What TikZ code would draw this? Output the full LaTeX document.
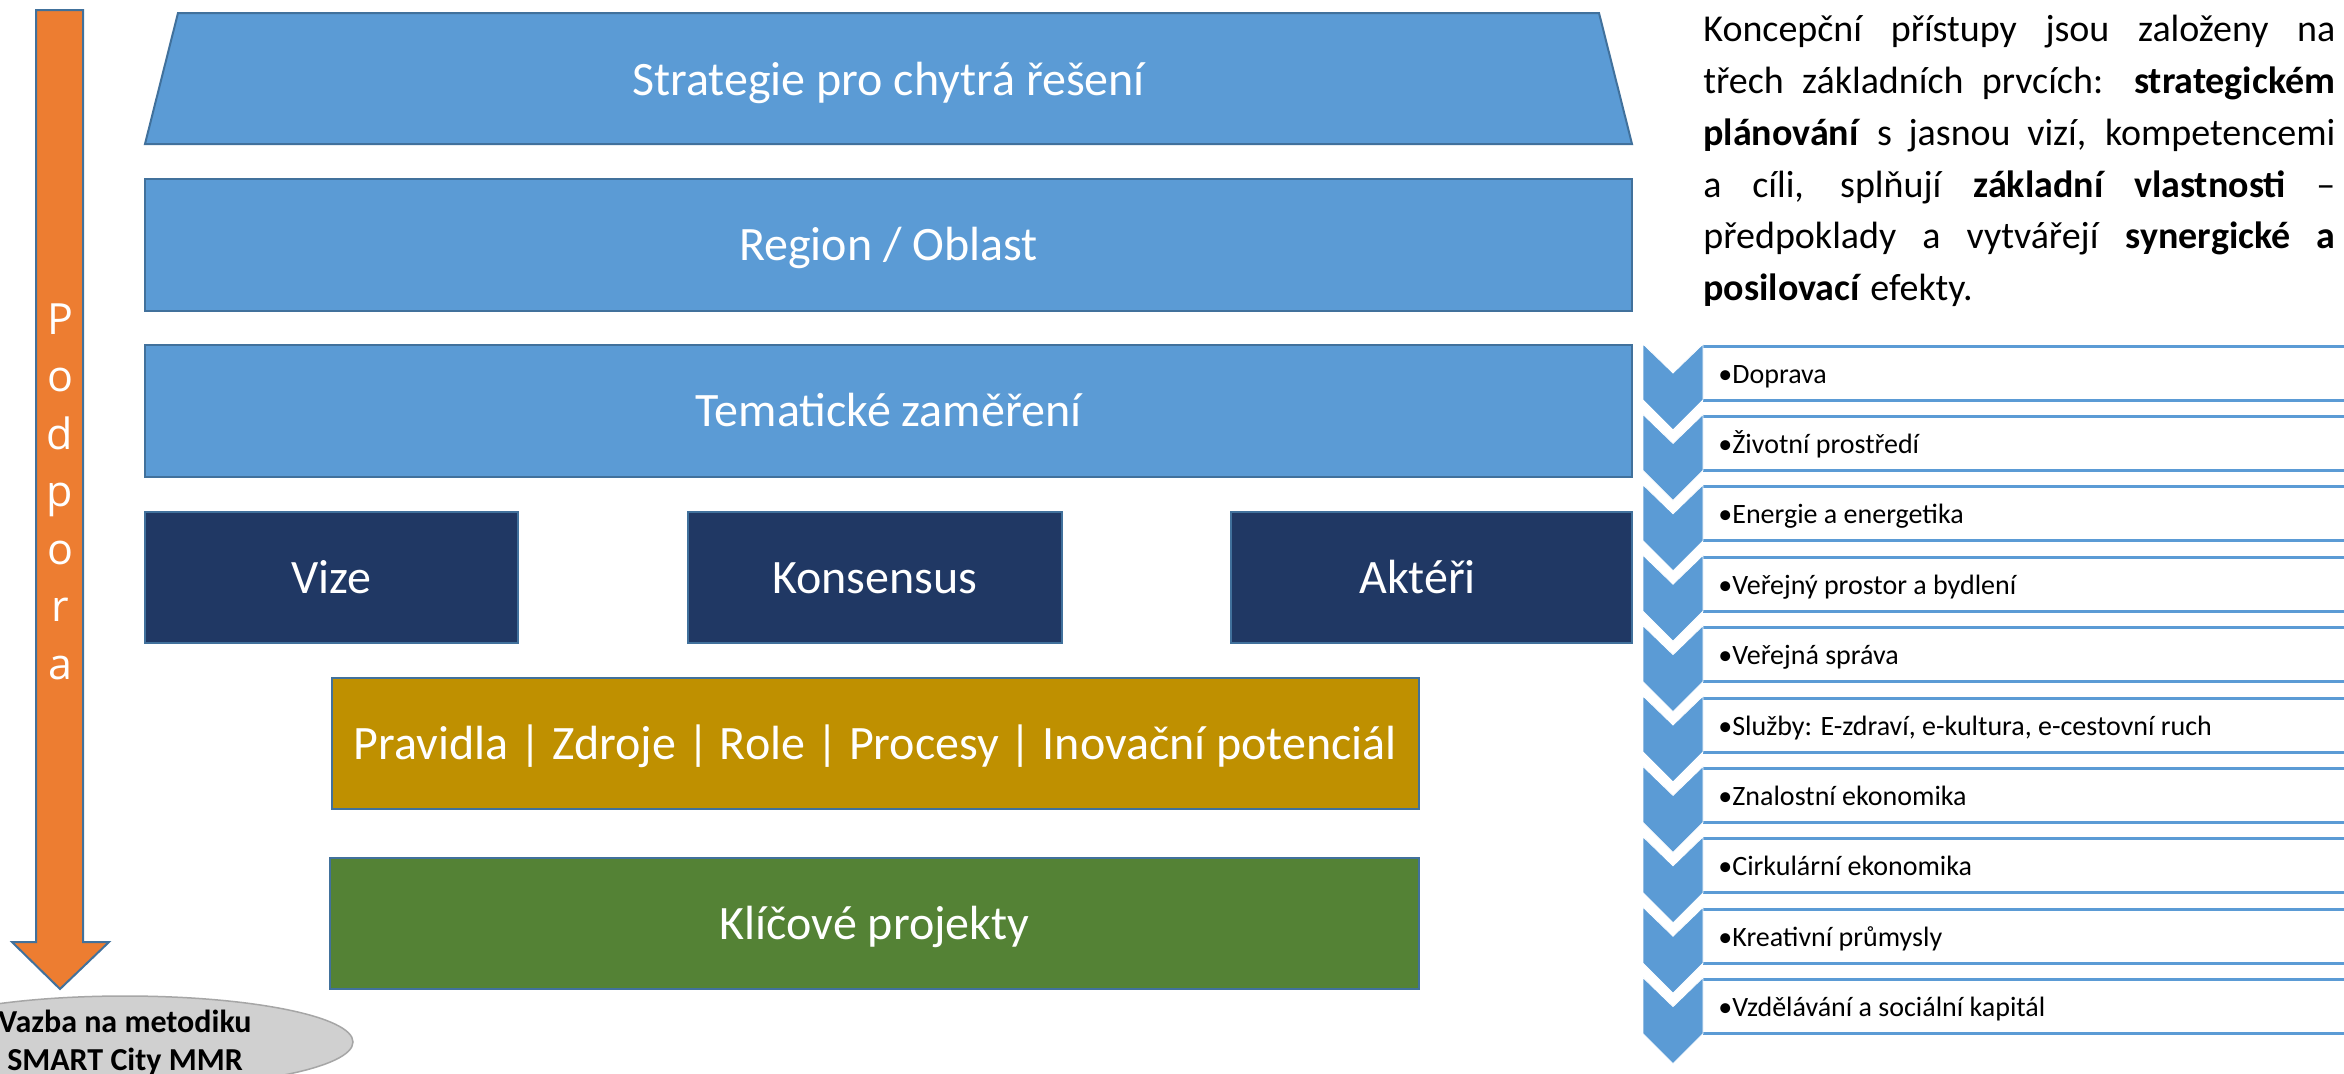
\documentclass[tikz,border=0pt]{standalone}
\usepackage{fontspec}
\setmainfont{Carlito}
\newfontfamily\osans{Open Sans}
\usetikzlibrary{shapes.geometric}
\definecolor{lblue}{HTML}{5B9BD5}
\definecolor{bord}{HTML}{41719C}
\definecolor{navy}{HTML}{203864}
\definecolor{gold}{HTML}{BF9000}
\definecolor{grn}{HTML}{548235}
\definecolor{orng}{HTML}{ED7D31}
\definecolor{egray}{HTML}{D0D0D0}
\definecolor{egrayd}{HTML}{A6A6A6}
\newcommand\jline[1]{\hbox to 316pt{#1}}
\begin{document}
\begin{tikzpicture}[x=0.5pt,y=-0.5pt,
  box/.style={rectangle, draw=bord, line width=1pt, text=white, inner sep=0pt,
    font=\fontsize{24}{29}\selectfont, text height=18pt, text depth=2.5pt},
  lbl/.style={text=white, inner sep=0pt, font=\fontsize{24}{29}\selectfont, text height=18pt, text depth=2.5pt},
  podl/.style={anchor=base, text=white, inner sep=0pt, font=\osans\fontsize{21.5}{26}\selectfont},
  itemtxt/.style={anchor=west, inner sep=0pt, font=\fontsize{14}{17}\selectfont, text height=10.8pt, text depth=1.8pt},
  listline/.style={draw=lblue, line width=1.5pt}]
\useasboundingbox (0,0) rectangle (2344,1073);
\fill[white] (0,0) rectangle (2344,1073);

% pyramid
\draw[fill=lblue, draw=bord, line width=1pt] (178,13) -- (1599,13) -- (1632,144) -- (145,144) -- cycle;
\node[lbl] (strat) at (888.5,80) {Strategie pro chytrá řešení};
\node[box, fill=lblue, minimum width=743.5pt, minimum height=66pt] (region) at (888.5,245) {Region / Oblast};
\node[box, fill=lblue, minimum width=743.5pt, minimum height=66pt] (tema) at (888.5,411) {Tematické zaměření};
\node[box, fill=navy, minimum width=186.5pt, minimum height=65.5pt] (vize) at (331.5,577.5) {Vize};
\node[box, fill=navy, minimum width=187pt, minimum height=65.5pt] (kons) at (875,577.5) {Konsensus};
\node[box, fill=navy, minimum width=200.5pt, minimum height=65.5pt] (akt) at (1431.5,577.5) {Aktéři\hspace*{14pt}};
\node[box, fill=gold, minimum width=543.5pt, minimum height=65.5pt] (prav) at (875.5,743.5) {Pravidla | Zdroje | Role | Procesy | Inovační potenciál};
\node[box, fill=grn, minimum width=544.5pt, minimum height=65.5pt] (klic) at (874.5,923.5) {Klíčové projekty};

% orange arrow
\draw[fill=orng, draw=bord, line width=1pt, line join=miter] (36,10) -- (83,10) -- (83,942) -- (109,942) -- (60,989) -- (12,942) -- (36,942) -- cycle;
\foreach \ch [count=\k from 0] in {P,o,d,p,o,r,a}
  \node[podl] (pod\k) at (60,{334+57.5*\k}) {\ch};

% ellipse
\node[ellipse, fill=egray, draw=egrayd, line width=0.75pt, minimum width=228pt, minimum height=46pt, inner sep=0pt] (vazba) at (125,1042) {};
\node[align=center, inner sep=0pt, font=\bfseries\fontsize{16}{19}\selectfont] (vazbatxt) at (125,1043) {Vazba na metodiku\\SMART City MMR};

% paragraph
\node[anchor=north west, inner sep=0pt, font=\fontsize{19}{25.9}\selectfont] (para) at (1703,15) {\vbox{%
\jline{Koncepční přístupy jsou založeny na}
\jline{třech základních prvcích: \textbf{strategickém}}
\jline{\textbf{plánování} s jasnou vizí, kompetencemi}
\jline{a cíli, splňují \textbf{základní vlastnosti} –}
\jline{předpoklady a vytvářejí \textbf{synergické a}}
\hbox{\textbf{posilovací} efekty.}}};

% chevron list
\foreach \t [count=\k from 0] in {Doprava,Životní prostředí,Energie a energetika,Veřejný prostor a bydlení,Veřejná správa,{Služby: E-zdraví, e-kultura, e-cestovní ruch},Znalostní ekonomika,Cirkulární ekonomika,Kreativní průmysly,Vzdělávání a sociální kapitál}{
  \pgfmathsetmacro\yy{344+70.4*\k}
  \fill[white] (1703,\yy+2) rectangle (2360,\yy+56);
  \draw[listline] (1703,\yy+2) -- (2360,\yy+2);
  \draw[listline] (1703,\yy+56) -- (2360,\yy+56);
  \draw[fill=lblue, draw=white, line width=0.4pt] (1643,\yy) -- (1673,\yy+29) -- (1703,\yy) -- (1703,\yy+56) -- (1673,\yy+86) -- (1643,\yy+56) -- cycle;
  \node[itemtxt] (item\k) at (1718,\yy+30) {\textbullet\t};
}
\end{tikzpicture}
\end{document}
